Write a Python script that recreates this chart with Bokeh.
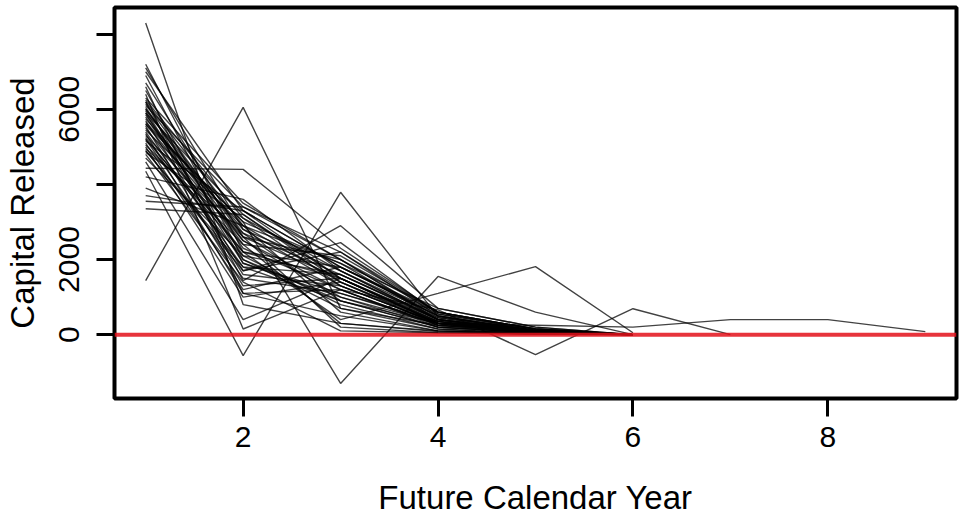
from bokeh.plotting import figure
from bokeh.models import Range1d, Span, FixedTicker, ColumnDataSource
from bokeh.embed import file_html
from bokeh.resources import INLINE

# Simulated capital released per future calendar year (one list per simulation, starting at year 1)
sim_paths = [
    [8300, 800, 300, 100, 50, 0],
    [1440, 6050, 700, 250, 100, 0],
    [4350, -560, 3790, 480, 100, 0],
    [5600, 3000, -1300, 1550, 600, 0],
    [6200, 1440, 2900, 700, 200, 0],
    [5900, 1700, 2450, 550, 150, 0],
    [5200, 2200, 400, 1100, 1810, 50],
    [6000, 2500, 1200, 660, -530, 690, 0],
    [4900, 1800, 900, 300, 250, 200, 400, 400, 80],
    [7200, 2200, 1500, 400, 100, 0],
    [7100, 2800, 1300, 300, 50, 0],
    [6900, 2000, 900, 200, 50, 0],
    [7000, 3300, 1800, 500, 100, 0],
    [3700, 3300, 1800, 600, 100, 0],
    [3550, 3400, 2000, 400, 100, 0],
    [3350, 3200, 1500, 300, 50, 0],
    [4430, 4400, 2300, 600, 150, 0],
    [6300, 3500, 2000, 600, 150, 0],
    [6250, 3100, 1700, 400, 100, 0],
    [6200, 2900, 1900, 700, 200, 0],
    [6150, 2600, 1500, 300, 80, 0],
    [6100, 3400, 2200, 500, 100, 0],
    [6050, 2300, 1200, 200, 50, 0],
    [6000, 2700, 1600, 450, 120, 0],
    [5950, 1900, 1100, 350, 60, 0],
    [5900, 3200, 1400, 250, 80, 0],
    [5850, 2400, 2100, 600, 150, 0],
    [5800, 2100, 800, 150, 30, 0],
    [5750, 2800, 1700, 500, 100, 0],
    [5700, 1600, 1300, 300, 80, 0],
    [5650, 3000, 1900, 400, 100, 0],
    [5600, 2500, 1000, 200, 50, 0],
    [5550, 1300, 1500, 350, 100, 0],
    [5500, 2200, 1800, 550, 120, 0],
    [5450, 2900, 600, 100, 20, 0],
    [5400, 1800, 1600, 400, 80, 0],
    [5350, 1100, 1200, 250, 60, 0],
    [5300, 2600, 2000, 450, 100, 0],
    [5250, 2000, 700, 150, 30, 0],
    [5200, 1500, 1100, 300, 60, 0],
    [5150, 3300, 1500, 350, 80, 0],
    [5100, 1200, 1800, 500, 100, 0],
    [5050, 2400, 300, 80, 20, 0],
    [5000, 1000, 1400, 350, 90, 0],
    [4950, 2700, 900, 200, 50, 0],
    [4900, 1700, 2200, 600, 150, 0],
    [4850, 3100, 1300, 300, 60, 0],
    [4800, 1400, 100, 50, 10, 0],
    [4700, 2100, 1600, 400, 100, 0],
    [4600, 400, 1500, 300, 80, 0],
    [6400, 150, 1200, 250, 50, 0],
    [6600, 1100, 500, 100, 30, 0],
    [6700, 2600, 200, 50, 10, 0],
    [6500, 1900, 1000, 300, 80, 0],
    [4200, 3600, 1700, 400, 100, 0],
    [3900, 2900, 1400, 300, 60, 0],
]

x_ticks = [2, 4, 6, 8]
y_ticks = [0, 2000, 4000, 6000, 8000]
y_tick_labels = {0: "0", 2000: "2000", 4000: "", 6000: "6000", 8000: ""}
x_title = "Future Calendar Year"
y_title = "Capital Released"

xs = [list(range(1, len(path) + 1)) for path in sim_paths]
ys = [list(path) for path in sim_paths]
src = ColumnDataSource(dict(xs=xs, ys=ys))

p = figure(width=963, height=524, output_backend="svg", toolbar_location=None,
           x_range=Range1d(0.68, 9.32), y_range=Range1d(-1700, 8710),
           min_border_left=114, min_border_right=7, min_border_top=7, min_border_bottom=126,
           background_fill_color="white", border_fill_color="white")

p.grid.visible = False
p.outline_line_color = "black"
p.outline_line_width = 4
p.outline_line_alpha = 1

p.multi_line(xs="xs", ys="ys", source=src, line_color="black", line_alpha=0.74, line_width=1.4)
p.add_layout(Span(location=0, dimension="width", line_color="#e3101a", line_alpha=0.85, line_width=4))

font = "Liberation Sans"
for ax in (p.xaxis[0], p.yaxis[0]):
    ax.axis_line_color = None
    ax.major_tick_line_width = 3
    ax.major_tick_line_color = "black"
    ax.major_tick_out = 18
    ax.major_tick_in = 0
    ax.minor_tick_line_color = None
    ax.major_label_text_font = font
    ax.major_label_text_font_size = "30px"
    ax.major_label_text_color = "black"
    ax.major_label_text_line_height = 1.0
    ax.axis_label_text_font = font
    ax.axis_label_text_font_size = "33px"
    ax.axis_label_text_font_style = "normal"
    ax.axis_label_text_color = "black"
    ax.axis_label_text_line_height = 1.0

p.xaxis[0].ticker = FixedTicker(ticks=x_ticks)
p.xaxis[0].axis_label = x_title
p.xaxis[0].major_label_standoff = 10
p.xaxis[0].axis_label_standoff = 29

p.yaxis[0].ticker = FixedTicker(ticks=y_ticks)
p.yaxis[0].major_label_overrides = y_tick_labels
p.yaxis[0].major_label_orientation = "vertical"
p.yaxis[0].axis_label = y_title
p.yaxis[0].major_label_standoff = 17
p.yaxis[0].axis_label_standoff = 16

open("out.html", "w").write(file_html(p, INLINE))
